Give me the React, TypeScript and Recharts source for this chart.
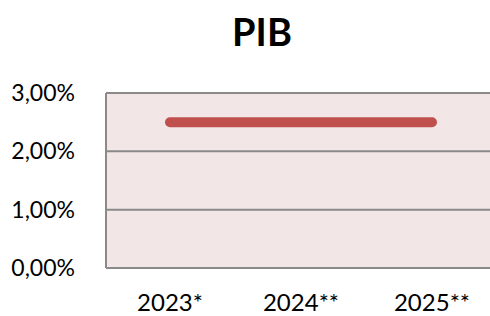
import { LineChart, Line, XAxis, YAxis, CartesianGrid } from "recharts";

const categories = ["2023*", "2024**", "2025**"];
const pib = [2.5, 2.5, 2.5];
const yTicks = [0, 1, 2, 3];

const data = categories.map((name, i) => ({ name, pib: pib[i] }));

const fmt = (v: number) => v.toFixed(2).replace(".", ",") + "%";

const font = "Lato, 'Open Sans', sans-serif";

export default function App() {
  return (
    <div style={{ position: "absolute", left: 0, top: 0, width: 490, height: 316, overflow: "hidden", background: "#fff" }}>
      <div
        style={{
          position: "absolute",
          top: 8,
          left: 0,
          width: 524,
          textAlign: "center",
          fontFamily: font,
          fontWeight: 700,
          fontSize: 38,
          color: "#000",
        }}
      >
        PIB
      </div>
      <LineChart width={496} height={316} data={data} margin={{ top: 93, right: 0, bottom: 0, left: 0 }}>
        <CartesianGrid vertical={false} stroke="#8a8a8a" strokeWidth={2} fill="#F2E6E6" />
        <XAxis
          dataKey="name"
          padding={{ left: 64, right: 64 }}
          axisLine={{ stroke: "#8a8a8a", strokeWidth: 2 }}
          tickLine={false}
          height={48}
          tickMargin={20}
          tick={{ fill: "#000", fontSize: 24, fontFamily: font }}
        />
        <YAxis
          domain={[0, 3]}
          ticks={yTicks}
          tickFormatter={fmt}
          width={106}
          axisLine={{ stroke: "#8a8a8a", strokeWidth: 2 }}
          tickLine={false}
          tickMargin={25}
          tick={{ fill: "#000", fontSize: 23, fontFamily: font }}
        />
        <Line
          dataKey="pib"
          stroke="#C0504D"
          strokeWidth={10}
          strokeLinecap="round"
          dot={false}
          isAnimationActive={false}
        />
      </LineChart>
    </div>
  );
}
